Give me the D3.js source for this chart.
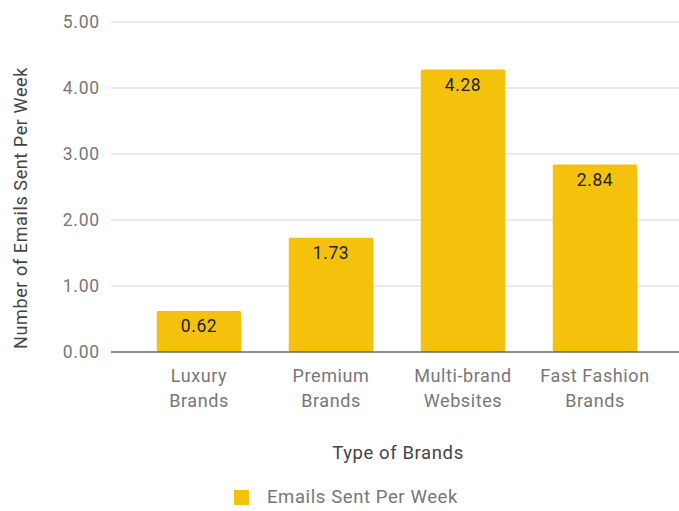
<!DOCTYPE html>
<html>
<head>
<meta charset="utf-8">
<script src="https://cdn.jsdelivr.net/npm/d3@7"></script>
<style>
  body { margin: 0; background: #fff; }
  text { font-family: Roboto, "Noto Sans", sans-serif; }
</style>
</head>
<body>
<svg id="chart" width="679" height="511"></svg>
<script>
// chart data
const categories = [["Luxury", "Brands"], ["Premium", "Brands"], ["Multi-brand", "Websites"], ["Fast Fashion", "Brands"]];
const emails = [0.62, 1.73, 4.28, 2.84];
const yTicks = [0, 1, 2, 3, 4, 5];
const seriesName = "Emails Sent Per Week";

const svg = d3.select("#chart");
const barColor = "#f4c20d";

const x = d3.scaleBand()
    .domain(d3.range(categories.length))
    .range([133, 661])
    .paddingInner(0.36)
    .paddingOuter(0.18);

const y = d3.scaleLinear()
    .domain([0, 5])
    .range([352, 22]);

// gridlines
svg.append("g").selectAll("line").data(yTicks.filter(d => d > 0))
    .join("line")
    .attr("x1", 111).attr("x2", 679)
    .attr("y1", d => y(d)).attr("y2", d => y(d))
    .attr("stroke", "#d6d6d6")
    .attr("stroke-width", 1.2);

// y tick labels
svg.append("g").selectAll("text").data(yTicks)
    .join("text")
    .attr("x", 100)
    .attr("y", d => y(d))
    .attr("dy", "0.35em")
    .attr("text-anchor", "end")
    .attr("font-size", 17.5)
    .attr("letter-spacing", 0.8)
    .attr("fill", "#777")
    .text(d => d.toFixed(2));

// bars
svg.append("g").selectAll("rect").data(emails)
    .join("rect")
    .attr("x", (d, i) => x(i))
    .attr("width", x.bandwidth())
    .attr("y", d => y(d))
    .attr("height", d => y(0) - y(d))
    .attr("rx", 1.5)
    .attr("fill", barColor);

// value labels
svg.append("g").selectAll("text").data(emails)
    .join("text")
    .attr("x", (d, i) => x(i) + x.bandwidth() / 2)
    .attr("y", d => y(d) + 21)
    .attr("text-anchor", "middle")
    .attr("font-size", 17.5)
    .attr("letter-spacing", 0.6)
    .attr("fill", "#222")
    .text(d => d.toFixed(2));

// baseline
svg.append("line")
    .attr("x1", 111).attr("x2", 679)
    .attr("y1", y(0)).attr("y2", y(0))
    .attr("stroke", "#666")
    .attr("stroke-width", 1.5);

// x labels
const xl = svg.append("g").selectAll("text").data(categories)
    .join("text")
    .attr("x", (d, i) => x(i) + x.bandwidth() / 2)
    .attr("y", 382)
    .attr("text-anchor", "middle")
    .attr("font-size", 18)
    .attr("letter-spacing", 0.6)
    .attr("fill", "#777");
xl.selectAll("tspan").data(d => d)
    .join("tspan")
    .attr("x", function () { return d3.select(this.parentNode).attr("x"); })
    .attr("dy", (d, i) => i === 0 ? 0 : 25)
    .text(d => d);

// axis titles
svg.append("text")
    .attr("x", 398)
    .attr("y", 459)
    .attr("text-anchor", "middle")
    .attr("font-size", 18.5)
    .attr("letter-spacing", 0.6)
    .attr("fill", "#444")
    .text("Type of Brands");

svg.append("text")
    .attr("transform", "translate(27, 208) rotate(-90)")
    .attr("text-anchor", "middle")
    .attr("font-size", 18)
    .attr("letter-spacing", 0.6)
    .attr("fill", "#444")
    .text("Number of Emails Sent Per Week");

// legend
svg.append("rect")
    .attr("x", 234).attr("y", 490)
    .attr("width", 15).attr("height", 15)
    .attr("fill", barColor);
svg.append("text")
    .attr("x", 267)
    .attr("y", 497)
    .attr("dy", "0.35em")
    .attr("font-size", 18.5)
    .attr("letter-spacing", 0.6)
    .attr("fill", "#777")
    .text(seriesName);
</script>
</body>
</html>
